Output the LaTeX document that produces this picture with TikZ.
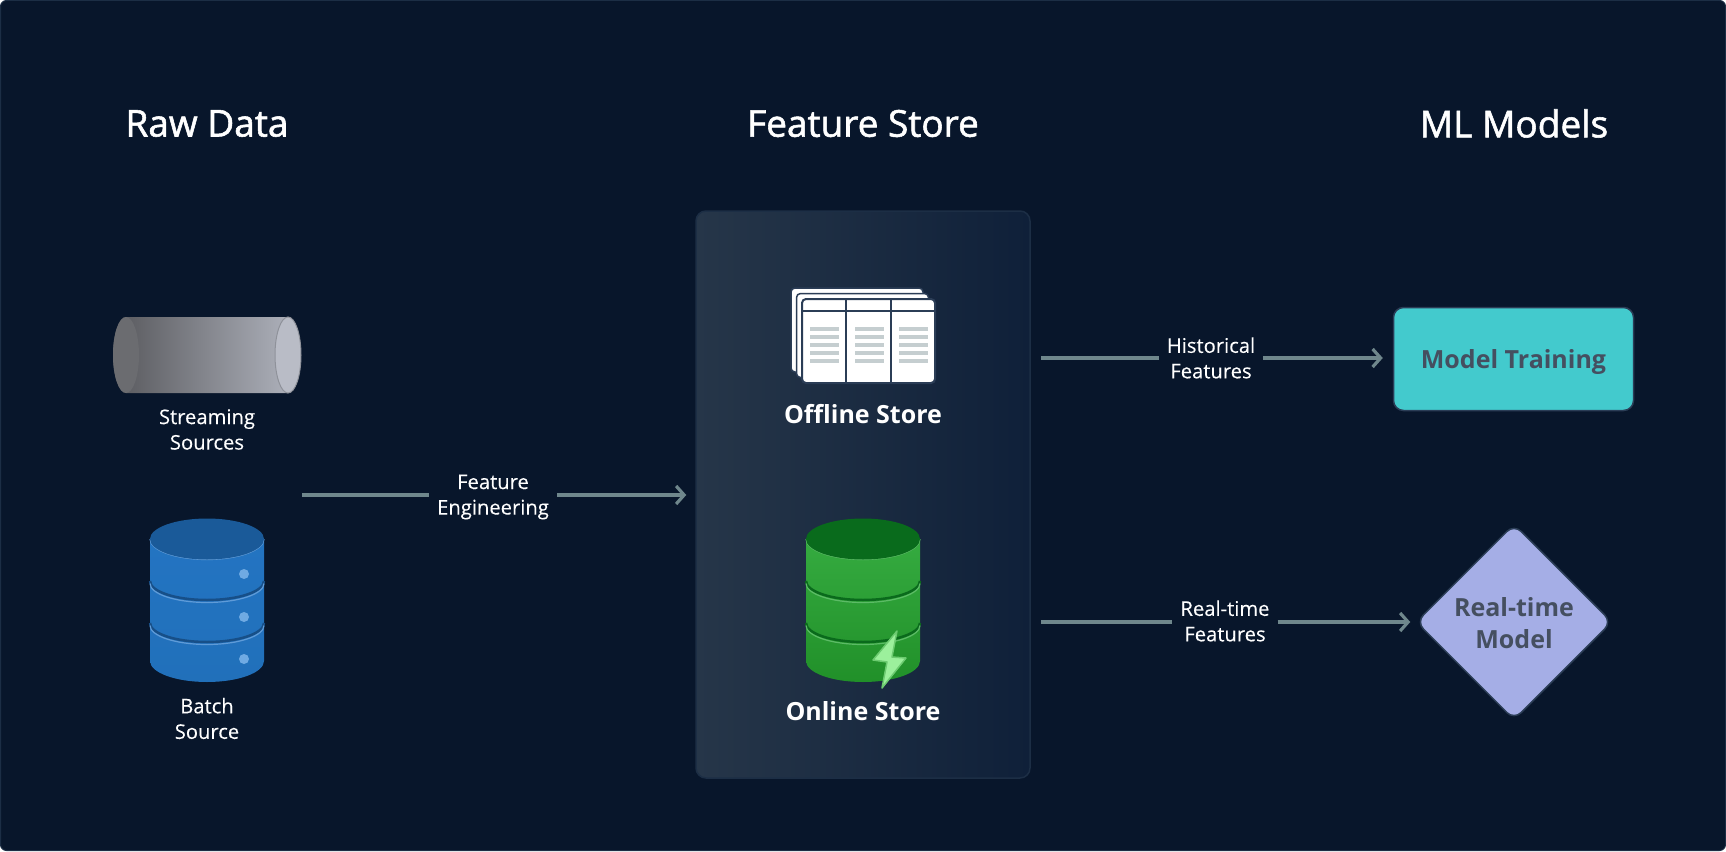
\documentclass[tikz,border=0pt]{standalone}
\usepackage{fontspec}
\setmainfont{Open Sans}
\newfontfamily\labelfont[FakeBold=0.12]{Open Sans}
\newfontfamily\titlefont[FakeBold=1.5]{Open Sans}
\usetikzlibrary{positioning,shapes.geometric,arrows.meta}
\definecolor{bgnavy}{HTML}{08162B}
\definecolor{bgedge}{HTML}{1C2E45}
\definecolor{flowgray}{HTML}{6F878C}
\definecolor{panelleft}{HTML}{263649}
\definecolor{panelright}{HTML}{0F2039}
\definecolor{cardedge}{HTML}{2B3D56}
\definecolor{rowgray}{HTML}{C5CED0}
\definecolor{inkgray}{HTML}{454F60}
\definecolor{teal}{HTML}{43CACD}
\definecolor{lilac}{HTML}{A5AEE6}
\definecolor{pipedark}{HTML}{57585C}
\definecolor{pipelight}{HTML}{ACAFB9}
\definecolor{pipecapl}{HTML}{6B6C70}
\definecolor{pipecapr}{HTML}{B9BCC6}
\definecolor{pipeedge}{HTML}{8F929A}
\definecolor{dotblue}{HTML}{6FAAE3}
\definecolor{boltfill}{HTML}{9CF09C}
\definecolor{boltedge}{HTML}{6CCB70}
\tikzset{
    title/.style={text=white, font=\titlefont\fontsize{37}{42}\selectfont},
    caption/.style={text=white, align=center, font=\labelfont\fontsize{20.2}{25.5}\selectfont},
    storename/.style={text=white, font=\fontsize{25}{28}\selectfont\bfseries},
    flowtext/.style={text=white, align=center, inner xsep=8pt, inner ysep=2pt, font=\labelfont\fontsize{20.2}{25.5}\selectfont},
    flow/.style={draw=flowgray, line width=3.2pt},
    flowend/.style={flow, -{Straight Barb[length=8pt,width=18pt,line width=3.2pt]}},
    modeltext/.style={text=inkgray, font=\fontsize{25}{32}\selectfont\bfseries}
}
\begin{document}
\begin{tikzpicture}[x=1pt, y=-1pt]
    \useasboundingbox (0,0) rectangle (1726,851);
    \filldraw[fill=bgnavy, draw=bgedge, line width=1pt, rounded corners=6pt] (0.5,0.5) rectangle (1725.5,850.5);

    % Column titles
    \node[title] (rawtitle) at (207,123.5) {Raw Data};
    \node[title] (storetitle) at (863,123.5) {Feature Store};
    \node[title] (modeltitle) at (1514,123.5) {ML Models};

    % Feature store panel
    \node[draw=bgedge, line width=1.5pt, rounded corners=10pt, left color=panelleft, right color=panelright,
        minimum width=334pt, minimum height=567pt, inner sep=0pt] (panel) at (863,494.5) {};

    % Streaming cylinder
    \shade[left color=pipedark, right color=pipelight] (126,317) -- (288,317) arc (90:270:13 and -38) -- (126,393) arc (90:270:13 and 38) -- cycle;
    \fill[pipecapl] (126,355) ellipse (13 and 38);
    \filldraw[fill=pipecapr, draw=pipeedge, line width=1pt] (288,355) ellipse (13 and 38);
    \node[caption] (streaming) at (207,429.5) {Streaming\\Sources};

    % Batch and online drums
    \foreach \cx/\top/\side/\sidelow/\dark/\glow in {207/1A5A99/2374C2/2170BA/174F88/5F9BD8, 863/096B1C/35AB40/219029/0A6A1C/5CBB66} {
        \definecolor{drumtop}{HTML}{\top}
        \definecolor{drumside}{HTML}{\side}
        \definecolor{drumlow}{HTML}{\sidelow}
        \definecolor{drumdark}{HTML}{\dark}
        \definecolor{drumglow}{HTML}{\glow}
        \begin{scope}[xshift=\cx pt]
            \shade[top color=drumside, bottom color=drumlow] (-57,539) -- (-57,661) arc (180:360:57 and -21) -- (57,539) -- cycle;
            \foreach \y in {581,623} {
                \draw[drumdark, line width=2.5pt] (-57,\y) arc (180:360:57 and -19);
                \draw[drumglow, line width=1.2pt] (-57,\y+2.5) arc (180:360:57 and -19);
            }
            \draw[drumglow, line width=1.2pt] (-57,539) arc (180:360:57 and -20.5);
            \fill[drumtop] (0,539) ellipse (57 and 20.5);
        \end{scope}
    }
    \foreach \y in {574,617,659}
        \fill[dotblue] (244,\y) circle (5);
    \node[caption] (batch) at (207,718.5) {Batch\\Source};

    % Offline tables
    \foreach \dx in {0,5.5}
        \filldraw[fill=white, draw=cardedge, line width=1.5pt, rounded corners=4pt] (791+\dx,288+\dx) rectangle (923+\dx,372+\dx);
    \filldraw[fill=white, draw=cardedge, line width=2pt, rounded corners=4pt] (802,299) rectangle (935,383);
    \draw[cardedge, line width=2pt] (802,311) -- (935,311);
    \draw[cardedge, line width=2pt] (846,299) -- (846,383);
    \draw[cardedge, line width=2pt] (891,299) -- (891,383);
    \foreach \x in {810,855,899}
        \foreach \y in {329,337,345,353,361}
            \fill[rowgray] (\x,\y-2) rectangle (\x+29,\y+2);
    \node[storename] (offline) at (863,414) {Offline Store};

    % Bolt over online drum
    \filldraw[fill=boltfill, draw=boltedge, line width=1.5pt, line join=round]
        (897,631) -- (873,660) -- (887,662) -- (882,688) -- (906,658) -- (892,657) -- cycle;
    \node[storename] (online) at (863,711) {Online Store};

    % Models
    \node[draw=cardedge, line width=1.5pt, fill=teal, rounded corners=10pt, minimum width=240pt, minimum height=103pt,
        modeltext, inner sep=0pt] (training) at (1513.5,359) {\raisebox{-9.3pt}[0pt][0pt]{Model Training}};
    \node[diamond, aspect=1, draw=cardedge, line width=1.5pt, fill=lilac, rounded corners=10pt, minimum width=196pt, minimum height=196pt,
        modeltext, align=center, inner sep=0pt] (rtmodel) at (1514,622) {\raisebox{-1.5pt}[\height][\depth]{Real-time}\\\raisebox{-1.5pt}[\height][\depth]{Model}};

    % Flows
    \coordinate (srcout) at (302,495);
    \coordinate (histout) at (1041,358);
    \coordinate (rtout) at (1041,622);
    \node[flowtext] (fe) at (493,497) {Feature\\Engineering};
    \node[flowtext] (hist) at (1211,358) {Historical\\Features};
    \node[flowtext] (rt) at (1225,621) {Real-time\\Features};
    \draw[flow] (srcout) -- (srcout -| fe.west);
    \draw[flowend, shorten >=9pt] (srcout -| fe.east) -- (srcout -| panel.west);
    \draw[flow] (histout) -- (histout -| hist.west);
    \draw[flowend, shorten >=10pt] (histout -| hist.east) -- (histout -| training.west);
    \draw[flow] (rtout) -- (rtout -| rt.west);
    \draw[flowend, shorten >=5pt] (rtout -| rt.east) -- (rtmodel.west);
\end{tikzpicture}
\end{document}
